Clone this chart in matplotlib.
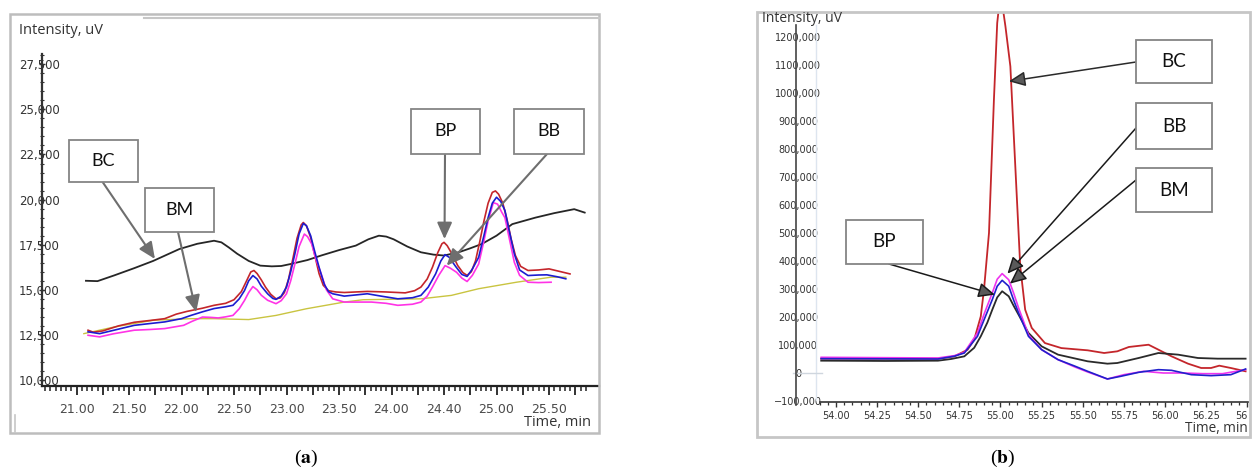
import numpy as np
import matplotlib
matplotlib.use("Agg")
import matplotlib.pyplot as plt
from matplotlib.patches import Rectangle
from matplotlib.lines import Line2D
from matplotlib.ticker import FixedLocator

plt.rcParams['mathtext.fontset'] = 'stix'

# ---------------- data: panel (a) ----------------
bc_a_t = [21.09, 21.20, 21.36, 21.55, 21.73, 21.98, 22.15, 22.31, 22.38, 22.45, 22.53, 22.64, 22.75, 22.86,
          22.95, 23.04, 23.20, 23.33, 23.50, 23.66, 23.78, 23.88, 23.95, 24.02, 24.15, 24.28, 24.40, 24.50,
          24.64, 24.75, 24.86, 25.00, 25.15, 25.37, 25.55, 25.74, 25.84]
bc_a_y = [15500, 15480, 15800, 16200, 16600, 17260, 17550, 17720, 17630, 17350, 17000, 16600, 16340, 16300,
          16320, 16430, 16650, 16900, 17200, 17450, 17800, 18000, 17950, 17800, 17400, 17080, 16950, 16900,
          17080, 17300, 17540, 18000, 18640, 19000, 19250, 19470, 19280]

red_a_t = [21.11, 21.16, 21.25, 21.40, 21.55, 21.70, 21.84, 21.95, 22.05, 22.20, 22.31, 22.42, 22.50, 22.57,
           22.62, 22.66, 22.69, 22.72, 22.76, 22.80, 22.85, 22.90, 22.94, 22.98, 23.02, 23.06, 23.10, 23.14,
           23.16, 23.19, 23.23, 23.27, 23.31, 23.35, 23.40, 23.47, 23.55, 23.77, 23.95, 24.13, 24.22, 24.28,
           24.34, 24.39, 24.44, 24.48, 24.50, 24.53, 24.58, 24.63, 24.68, 24.72, 24.76, 24.80, 24.84, 24.88,
           24.92, 24.96, 24.99, 25.02, 25.06, 25.10, 25.14, 25.18, 25.23, 25.30, 25.40, 25.50, 25.60, 25.70]
red_a_y = [12760, 12650, 12720, 13000, 13200, 13300, 13400, 13650, 13800, 13980, 14140, 14250, 14450, 14900,
           15500, 15990, 16070, 15900, 15550, 15150, 14750, 14500, 14550, 14850, 15600, 16700, 17850, 18600,
           18730, 18550, 17900, 16900, 15900, 15250, 14950, 14880, 14850, 14910, 14880, 14830, 14950, 15150,
           15600, 16250, 17050, 17550, 17630, 17450, 16950, 16350, 15950, 15800, 16000, 16600, 17650, 18800,
           19800, 20400, 20480, 20300, 19800, 18900, 17800, 16900, 16300, 16070, 16100, 16160, 16020, 15880]

blue_a_t = [21.11, 21.22, 21.35, 21.55, 21.70, 21.84, 22.00, 22.09, 22.20, 22.31, 22.42, 22.49, 22.55, 22.60,
            22.64, 22.68, 22.72, 22.76, 22.82, 22.87, 22.90, 22.95, 23.00, 23.04, 23.08, 23.12, 23.16, 23.19,
            23.23, 23.27, 23.31, 23.36, 23.40, 23.44, 23.55, 23.77, 23.90, 24.06, 24.20, 24.28, 24.35, 24.42,
            24.47, 24.51, 24.55, 24.61, 24.67, 24.72, 24.77, 24.83, 24.88, 24.92, 24.96, 25.00, 25.04, 25.08,
            25.12, 25.17, 25.22, 25.30, 25.40, 25.48, 25.58, 25.66]
blue_a_y = [12670, 12570, 12750, 13030, 13130, 13220, 13400, 13580, 13780, 13960, 14060, 14140, 14500, 14960,
            15500, 15790, 15600, 15200, 14780, 14520, 14470, 14650, 15150, 16000, 17000, 18100, 18680, 18550,
            18000, 17100, 16250, 15300, 14900, 14780, 14650, 14780, 14650, 14500, 14560, 14690, 15150, 15880,
            16600, 16950, 16800, 16300, 15850, 15740, 16150, 16800, 18000, 19000, 19800, 20130, 19900, 19400,
            18300, 16990, 16100, 15790, 15820, 15830, 15720, 15610]

mag_a_t = [21.11, 21.22, 21.35, 21.55, 21.70, 21.84, 22.02, 22.10, 22.20, 22.28, 22.35, 22.42, 22.49, 22.55,
           22.60, 22.64, 22.68, 22.72, 22.76, 22.82, 22.90, 22.95, 23.00, 23.04, 23.08, 23.12, 23.17, 23.20,
           23.24, 23.28, 23.33, 23.38, 23.44, 23.55, 23.81, 23.95, 24.06, 24.20, 24.28, 24.34, 24.39, 24.45,
           24.51, 24.56, 24.62, 24.67, 24.72, 24.77, 24.83, 24.88, 24.92, 24.97, 25.01, 25.05, 25.08, 25.12,
           25.17, 25.22, 25.30, 25.40, 25.52]
mag_a_y = [12480, 12390, 12560, 12760, 12800, 12850, 13030, 13250, 13490, 13470, 13440, 13500, 13580, 13950,
           14410, 14850, 15180, 15000, 14700, 14420, 14230, 14400, 14780, 15500, 16430, 17400, 18090, 17950,
           17540, 16700, 15880, 15000, 14500, 14320, 14320, 14250, 14140, 14200, 14320, 14650, 15150, 15800,
           16340, 16200, 15970, 15650, 15460, 15800, 16430, 17700, 18820, 19830, 19750, 19300, 19000, 17900,
           16520, 15800, 15420, 15400, 15420]

yel_a_t = [21.07, 21.36, 21.73, 22.09, 22.31, 22.64, 22.90, 23.19, 23.55, 23.73, 24.28, 24.57, 24.83, 25.19,
           25.52, 25.66]
yel_a_y = [12570, 12940, 13310, 13400, 13400, 13350, 13580, 13950, 14320, 14450, 14500, 14690, 15060, 15420,
           15700, 15700]

xticks_a = [21.00, 21.50, 22.00, 22.50, 23.00, 23.50, 24.00, 24.50, 25.00, 25.50]
xlabels_a = ["21.00", "21.50", "22.00", "22.50", "23.00", "23.50", "24.00", "24.40", "25.00", "25.50"]
yticks_a = [10000, 12500, 15000, 17500, 20000, 22500, 25000, 27500]
ylabels_a = ["10,000", "12,500", "15,000", "17,500", "20,000", "22,500", "25,000", "27,500"]

# ---------------- data: panel (b) ----------------
red_b_t = [53.91, 54.22, 54.62, 54.72, 54.80, 54.84, 54.88, 54.90, 54.93, 54.96, 54.98, 54.995, 55.01, 55.03,
           55.06, 55.09, 55.12, 55.15, 55.19, 55.27, 55.37, 55.53, 55.63, 55.71, 55.78, 55.90, 55.96, 56.04,
           56.14, 56.22, 56.28, 56.33, 56.40, 56.49]
red_b_y = [51200, 51200, 51200, 59500, 83300, 119000, 202000, 300000, 500000, 976000, 1250000, 1330000,
           1320000, 1238000, 1095000, 738000, 381000, 226000, 161000, 107000, 89000, 81000, 71400, 77400,
           92900, 101000, 83300, 59500, 33300, 17900, 17900, 26200, 17900, 6000]

blk_b_t = [53.91, 54.30, 54.62, 54.70, 54.78, 54.84, 54.88, 54.92, 54.95, 54.98, 55.01, 55.05, 55.08, 55.11,
           55.17, 55.25, 55.35, 55.53, 55.65, 55.71, 55.84, 55.96, 56.08, 56.20, 56.32, 56.49]
blk_b_y = [44000, 43000, 44000, 50000, 59500, 90000, 131000, 180000, 226000, 270000, 292000, 274000, 240000,
           208000, 143000, 95200, 65500, 41700, 33300, 35700, 53600, 71400, 65500, 53600, 51200, 51200]

blue_b_t = [53.91, 54.62, 54.72, 54.78, 54.86, 54.90, 54.95, 54.98, 55.01, 55.05, 55.08, 55.11, 55.17, 55.25,
            55.35, 55.45, 55.53, 55.65, 55.73, 55.84, 55.96, 56.04, 56.16, 56.28, 56.40, 56.49]
blue_b_y = [51200, 50000, 60000, 71400, 131000, 190000, 262000, 310000, 331000, 310000, 260000, 214000,
            131000, 83300, 47600, 25000, 6000, -21400, -11900, 2400, 11900, 9500, -6000, -9500, -6000, 14300]

mag_b_t = [53.91, 54.62, 54.72, 54.78, 54.86, 54.90, 54.95, 54.98, 55.01, 55.05, 55.08, 55.11, 55.17, 55.25,
           55.35, 55.45, 55.53, 55.65, 55.75, 55.87, 55.99, 56.11, 56.23, 56.35, 56.49]
mag_b_y = [56000, 53600, 62000, 73800, 143000, 210000, 286000, 335000, 355000, 333000, 285000, 232000,
           137000, 83300, 47600, 22000, 3600, -21400, -6000, 6000, 0, 0, -2400, -2400, 12000]

# last label is shown cut by the frame in the reference: only "56" is visible
xticks_b = [54.00, 54.25, 54.50, 54.75, 55.00, 55.25, 55.50, 55.75, 56.00, 56.25, 56.50]
xlabels_b = ["54.00", "54.25", "54.50", "54.75", "55.00", "55.25", "55.50", "55.75", "56.00", "56.25", "56"]
yticks_b = [-100000, 0, 100000, 200000, 300000, 400000, 500000, 600000, 700000, 800000, 900000, 1000000,
            1100000, 1200000]
ylabels_b = ["\u2212100,000", "0", "100,000", "200,000", "300,000", "400,000", "500,000", "600,000",
             "700,000", "800,000", "900,000", "1000,000", "1100,000", "1200,000"]

# ---------------- figure ----------------
W, H = 1256, 472
fig = plt.figure(figsize=(W / 100, H / 100), dpi=100)


def fx(px):
    return px / W


def fy(py):
    return 1 - py / H


LABEL_FONT = ['Open Sans', 'DejaVu Sans']
BOX_FONT = ['Lato', 'DejaVu Sans']

# ======== panel (a) ========
# pixel mapping: x 21.00 at 76.5 px, 105 px/min ; y 10000 at 380 px, 45.1 px per 2500
ax1 = fig.add_axes([fx(42), fy(386), fx(599) - fx(42), fy(54) - fy(386)])
ax1.set_xlim(21 + (42 - 76.5) / 105, 21 + (599 - 76.5) / 105)
ax1.set_ylim(10000 - (386 - 380) / 45.1 * 2500, 10000 + (380 - 54) / 45.1 * 2500)
ax1.patch.set_alpha(0)

ax1.plot(yel_a_t, yel_a_y, color='#c9c440', lw=1.0)
ax1.plot(bc_a_t, bc_a_y, color='#262626', lw=1.3)
ax1.plot(red_a_t, red_a_y, color='#c4262b', lw=1.2)
ax1.plot(mag_a_t, mag_a_y, color='#ff33e6', lw=1.2)
ax1.plot(blue_a_t, blue_a_y, color='#1c1cd0', lw=1.2)

for s in ['top', 'right']:
    ax1.spines[s].set_visible(False)
ax1.spines['left'].set_color('#333333')
ax1.spines['left'].set_linewidth(1.6)
ax1.spines['bottom'].set_color('#222222')
ax1.spines['bottom'].set_linewidth(1.6)

major_a = np.arange(21.0, 25.76, 0.25)
ax1.xaxis.set_major_locator(FixedLocator(major_a))
lab_map = dict(zip([round(v, 2) for v in xticks_a], xlabels_a))
ax1.set_xticklabels([lab_map.get(round(v, 2), "") for v in major_a])
ax1.xaxis.set_minor_locator(FixedLocator(np.arange(20.70, 25.86, 0.05)))
ax1.tick_params(axis='x', which='major', direction='out', length=6.5, width=1.3, color='#222222',
                pad=5.5, labelsize=9, labelcolor='#4a4a4a')
ax1.tick_params(axis='x', which='minor', direction='out', length=3.4, width=1.1, color='#222222')

ax1.set_yticks(yticks_a)
ax1.set_yticklabels(ylabels_a)
ax1.yaxis.set_minor_locator(FixedLocator(np.arange(10000, 28001, 500)))
ax1.tick_params(axis='y', which='major', direction='inout', length=5, width=1.0, color='#333333',
                pad=-0.5, labelsize=8.5, labelcolor='#333333')
ax1.tick_params(axis='y', which='minor', direction='inout', length=2.5, width=0.8, color='#333333')
for lab in ax1.get_yticklabels():
    lab.set_horizontalalignment('center')

fig.text(fx(19), fy(31), "Intensity, uV", ha='left', va='center', fontsize=10.5, color='#333333',
         family=LABEL_FONT)
fig.text(fx(591), fy(422), "Time, min", ha='right', va='center', fontsize=10.5, color='#333333',
         family=LABEL_FONT)

# frame of panel (a)
fig.patches.append(Rectangle((fx(10), fy(433)), fx(599) - fx(10), fy(14) - fy(433), transform=fig.transFigure,
                             fill=False, ec='#bdbdbd', lw=1.8, zorder=0.5))
fig.lines.append(Line2D([fx(144), fx(599)], [fy(17.5), fy(17.5)], transform=fig.transFigure,
                        color='#c6c6c6', lw=1.5))
fig.lines.append(Line2D([fx(14.7), fx(14.7)], [fy(415), fy(432)], transform=fig.transFigure,
                        color='#c6c6c6', lw=1.2))


def label_box(x0, y0, x1, y1, text, size=13):
    fig.patches.append(Rectangle((fx(x0), fy(y1)), fx(x1) - fx(x0), fy(y0) - fy(y1), transform=fig.transFigure,
                                 fc='white', ec='#858585', lw=1.3, zorder=3))
    fig.text(fx((x0 + x1) / 2), fy((y0 + y1) / 2), text, ha='center', va='center', fontsize=size,
             color='#111111', family=BOX_FONT, zorder=4)


def arrow(ax, target, start, ec, fc, lw, ms):
    ax.annotate('', xy=target, xycoords='data', xytext=(fx(start[0]), fy(start[1])),
                textcoords='figure fraction',
                arrowprops=dict(arrowstyle='-|>,head_length=1.0,head_width=0.45', ec=ec, fc=fc, lw=lw,
                                shrinkA=0, shrinkB=0, mutation_scale=ms))


# annotations (a)
arrow(ax1, (21.747, 16710), (102.6, 182), '#6e6e6e', '#6e6e6e', 1.5, 10)
arrow(ax1, (22.140, 13768), (178, 232), '#6e6e6e', '#6e6e6e', 1.5, 10)
arrow(ax1, (24.505, 17812), (445, 154), '#6e6e6e', '#6e6e6e', 1.5, 10)
arrow(ax1, (24.526, 16342), (547, 154), '#6e6e6e', '#6e6e6e', 1.5, 10)
label_box(69, 140, 138, 182, "BC")
label_box(145, 188, 214, 232, "BM")
label_box(411, 109, 480, 154, "BP")
label_box(514, 109, 584, 154, "BB")

# ======== panel (b) ========
# pixel mapping: x 54.00 at 836 px, 164.5 px/min ; y 0 at 373 px, 28 px per 100000
def bx(px):
    return 54 + (px - 836) / 164.5


def by(py):
    return (373 - py) / 28 * 100000


ax2 = fig.add_axes([fx(796), fy(402), fx(1248) - fx(796), fy(12) - fy(402)])
ax2.set_xlim(bx(796), bx(1248))
ax2.set_ylim(by(402), by(12))
ax2.patch.set_alpha(0)

ax2.axvline(bx(816), ymin=0.005, ymax=0.967, color='#dde5ef', lw=1.0)
ax2.axhline(0, xmin=(793 - 796) / 452, xmax=(822 - 796) / 452, color='#cfd6de', lw=1.0, clip_on=False)

ax2.plot(red_b_t, red_b_y, color='#c4262b', lw=1.3)
ax2.plot(blk_b_t, blk_b_y, color='#2a2a2a', lw=1.3)
ax2.plot(mag_b_t, mag_b_y, color='#ee33ee', lw=1.2)
ax2.plot(blue_b_t, blue_b_y, color='#2020cc', lw=1.2)

for s in ['top', 'right']:
    ax2.spines[s].set_visible(False)
ax2.spines['left'].set_bounds(by(405), by(25))
ax2.spines['left'].set_color('#444444')
ax2.spines['left'].set_linewidth(1.2)
ax2.spines['bottom'].set_bounds(bx(820), bx(1248))
ax2.spines['bottom'].set_color('#333333')
ax2.spines['bottom'].set_linewidth(1.2)

ax2.set_xticks(xticks_b)
ax2.set_xticklabels(xlabels_b)
ax2.xaxis.set_minor_locator(FixedLocator(np.arange(53.90, 56.50, 0.05)))
ax2.tick_params(axis='x', which='major', direction='out', length=3.8, width=1.0, color='#333333',
                pad=2.5, labelsize=7, labelcolor='#333333')
ax2.tick_params(axis='x', which='minor', direction='out', length=2.4, width=0.9, color='#333333')
ax2.get_xticklabels()[-1].set_horizontalalignment('right')

ax2.set_yticks(yticks_b)
ax2.set_yticklabels(ylabels_b)
ax2.tick_params(axis='y', which='major', length=0, pad=-1.5, labelsize=7, labelcolor='#333333')
for lab in ax2.get_yticklabels():
    lab.set_horizontalalignment('center')

fig.text(fx(762), fy(18), "Intensity, uV", ha='left', va='center', fontsize=10, color='#333333',
         family=LABEL_FONT)
fig.text(fx(1248), fy(428), "Time, min", ha='right', va='center', fontsize=9.8, color='#333333',
         family=LABEL_FONT)

fig.patches.append(Rectangle((fx(757), fy(437)), fx(1250) - fx(757), fy(12) - fy(437), transform=fig.transFigure,
                             fill=False, ec='#c6c6c6', lw=2.0, zorder=0.5))

arrow(ax2, (55.051, 1041700), (1136, 62), '#2a2a2a', '#5a5a5a', 1.1, 10)
arrow(ax2, (55.042, 354800), (1136, 128), '#1a1a1a', '#5a5a5a', 1.1, 10)
arrow(ax2, (55.057, 319000), (1136, 180), '#1a1a1a', '#5a5a5a', 1.1, 10)
arrow(ax2, (54.966, 279800), (889, 264), '#1a1a1a', '#5a5a5a', 1.1, 10)
label_box(1136, 40, 1212, 83, "BC", 13.5)
label_box(1136, 103, 1212, 149, "BB", 13.5)
label_box(1136, 168, 1212, 212, "BM", 13.5)
label_box(846, 220, 923, 264, "BP", 13.5)

# captions
fig.text(fx(306), fy(458), r'($\mathbf{a}$)', ha='center', va='center', fontsize=14, family='Liberation Serif')
fig.text(fx(1003), fy(458), r'($\mathbf{b}$)', ha='center', va='center', fontsize=14, family='Liberation Serif')

fig.savefig("out.png", dpi=100, facecolor='white')
